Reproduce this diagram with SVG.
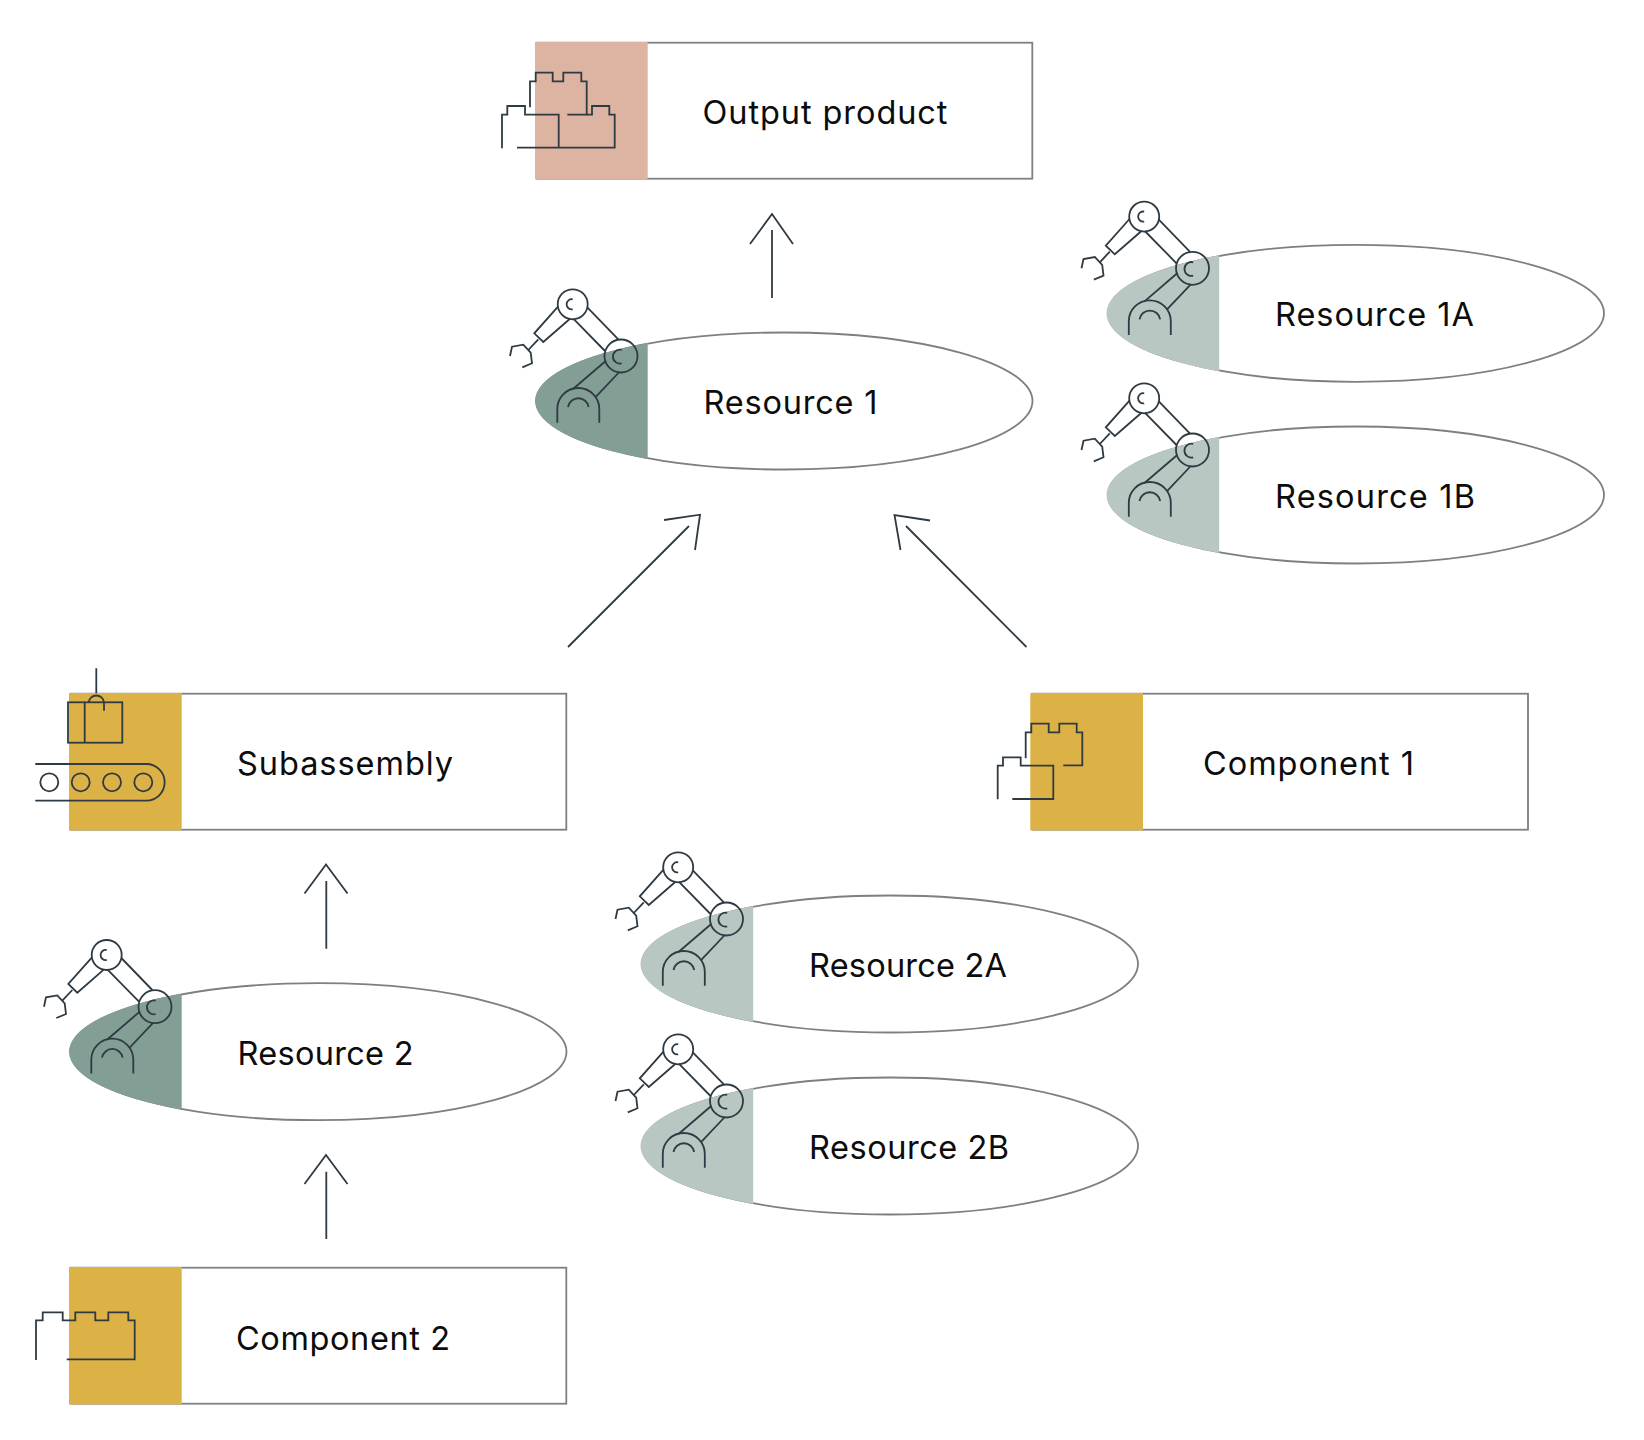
<svg xmlns="http://www.w3.org/2000/svg" width="1644" height="1440" viewBox="0 0 1644 1440">
<style>
.box{fill:#fff;stroke:#7d7f83;stroke-width:1.8}
.icon,.icon *{fill:none;stroke:#2f3a42;stroke-width:1.8}
.conn{fill:none;stroke:#2f3a42;stroke-width:1.8}
.gold{fill:#dcb246}.pink{fill:#ddb3a1}.dark{fill:#829e95}.light{fill:#b9c7c2}
text{font-family:"Inter","Liberation Sans",Arial,sans-serif;font-size:32.5px;fill:#0c0c0c}
</style>
<defs>
<g id="robot" class="icon">
<circle cx="572.7" cy="304.3" r="15"/>
<circle cx="621" cy="356" r="16.5"/>
<path d="M572.7 299.3A5.1 5.1 0 1 0 572.7 309.3"/>
<path d="M621.7 350A6.9 6.9 0 1 0 621.7 363.3"/>
<path d="M572.7 389.3L606 360.7M595.3 397.3L619.3 372M573.3 318.7L605 351M587.3 307.3L618.3 339.3"/>
<path d="M558 306.7L534.3 333.3L543.3 342L570 318.7M538.3 339.3L528.3 350"/>
<path d="M510 356L512 346.7L523.3 344.7L530.7 352.7L532 363.3L522.3 367.3"/>
<path d="M557.3 422.7V409A21 21 0 0 1 599.3 409V422.7"/>
<path d="M568 407A10.5 10.5 0 0 1 588.7 407"/>
</g>
<ellipse id="oval" class="box" cx="784.5" cy="401" rx="248" ry="68.5"/>
<path id="sector" d="M647.7 343A249 69.3 0 0 0 647.7 459Z"/>
<rect id="rct" class="box" x="537" y="42.7" width="495.3" height="136"/>
<rect id="swatch" x="535" y="42" width="112.7" height="137.4"/>
</defs>

<g id="connectors" class="conn">
<path d="M772 298V230M750 244L772 214L793 244"/>
<path d="M568 647L689 526M664 520L700 514.7L695 550"/>
<path d="M1026.5 647L906 526M930 520.5L894.5 515L900.5 550"/>
<path d="M326.3 948.7V881M304.5 893.5L326 864.5L347.5 893.5"/>
<path d="M326.3 1239V1171.7M304.5 1184L326 1155L347.5 1184"/>
</g>

<g id="output-product">
<use href="#rct"/><use href="#swatch" class="pink"/>
<g class="icon"><path d="M530 107.3V81.3H535.7V72.7H552.7V81.3H563.3V72.7H581.3V81.3H586.7V114.7H567.3"/>
<path d="M586.7 114.7H592V106H609.3V114.7H614.7V147.7H517"/>
<path d="M502 148.3V114.7H507.3V106H525V114.7H558.7V147.7"/></g>
<text x="702.5" y="123.7" textLength="245">Output product</text>
</g>

<g id="resource-1">
<use href="#oval"/><use href="#sector" class="dark"/><use href="#robot"/>
<text x="703.5" y="413.7" textLength="174">Resource 1</text>
</g>
<g id="resource-1a" transform="translate(571.5 -87.7)">
<use href="#oval"/><use href="#sector" class="light"/><use href="#robot"/>
<text x="703.5" y="414.2" textLength="199">Resource 1A</text>
</g>
<g id="resource-1b" transform="translate(571.5 94)">
<use href="#oval"/><use href="#sector" class="light"/><use href="#robot"/>
<text x="703.5" y="413.7" textLength="200">Resource 1B</text>
</g>

<g id="subassembly">
<use href="#rct" transform="translate(-466 651)"/><use href="#swatch" class="gold" transform="translate(-466 651)"/>
<g class="icon"><path d="M96.3 668.3V693.3M88.7 702.3A7.7 7.7 0 0 1 104 702.3V710.7"/>
<rect x="68" y="702.3" width="54.3" height="40.4"/><path d="M84.7 702.3V742.7"/>
<path d="M35.3 764H146.3A18.3 18.3 0 0 1 146.3 800.7H35.3"/>
<circle cx="49.3" cy="782.3" r="9"/><circle cx="80.7" cy="782.3" r="9"/><circle cx="112" cy="782.3" r="9"/><circle cx="143.3" cy="782.3" r="9"/></g>
<text x="237" y="774.7" textLength="216">Subassembly</text>
</g>

<g id="component-1">
<use href="#rct" transform="translate(495.7 651)"/><use href="#swatch" class="gold" transform="translate(495.3 651)"/>
<g class="icon"><path d="M1025.7 758.3V732.3H1031.3V723.7H1048.7V732.3H1059.3V723.7H1076.7V732.3H1082.3V765.3H1063.3"/>
<path d="M997.7 799.3V765.7H1003V757.3H1020.7V765.7H1053.3V799H1012.3"/></g>
<text x="1203" y="774.7" textLength="211">Component 1</text>
</g>

<g id="resource-2a" transform="translate(105.5 563)">
<use href="#oval"/><use href="#sector" class="light"/><use href="#robot"/>
<text x="703.5" y="413.7" textLength="198">Resource 2A</text>
</g>
<g id="resource-2b" transform="translate(105.5 745)">
<use href="#oval"/><use href="#sector" class="light"/><use href="#robot"/>
<text x="703.5" y="413.5" textLength="200">Resource 2B</text>
</g>
<g id="resource-2" transform="translate(-466 650.7)">
<use href="#oval"/><use href="#sector" class="dark"/><use href="#robot"/>
<text x="703.5" y="414" textLength="176">Resource 2</text>
</g>

<g id="component-2">
<use href="#rct" transform="translate(-466 1225)"/><use href="#swatch" class="gold" transform="translate(-466 1225)"/>
<path class="icon" d="M36 1360V1320.3H42.7V1312.3H62.7V1320.3H75.3V1312.3H95.3V1320.3H108.3V1312.3H128.3V1320.3H134.7V1359.3H66.7"/>
<text x="236" y="1349.7" textLength="214">Component 2</text>
</g>
</svg>
